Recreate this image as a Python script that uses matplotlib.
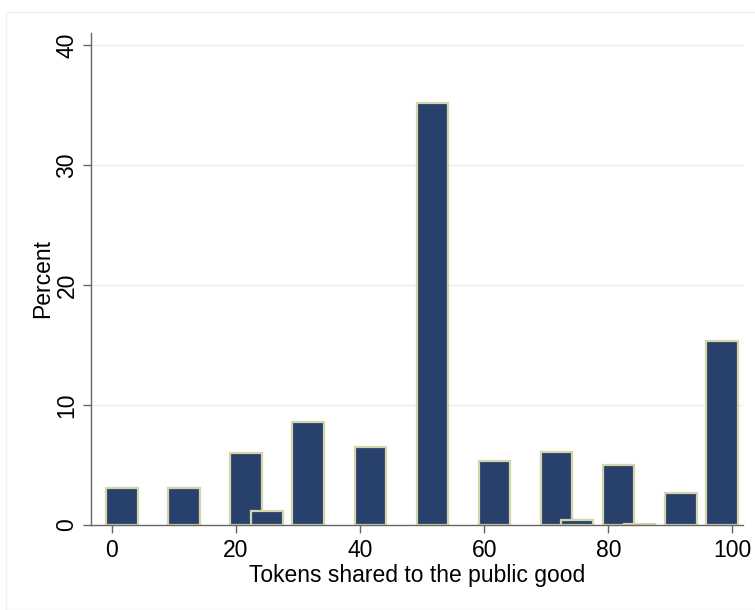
import matplotlib
matplotlib.use("Agg")
import matplotlib.pyplot as plt
from matplotlib.patches import Rectangle

# Data: histogram bins (bin centres, in tokens) and percent of subjects
bin_centers = [1.67, 11.67, 21.67, 25.0, 31.67, 41.67, 51.67, 61.67, 71.67, 75.0, 81.67, 85.0, 91.67, 98.33]
percent = [3.1, 3.1, 6.0, 1.2, 8.6, 6.5, 35.2, 5.3, 6.1, 0.45, 5.0, 0.1, 2.7, 15.3]
x_ticks = [0, 20, 40, 60, 80, 100]
y_ticks = [0, 10, 20, 30, 40]
x_title = "Tokens shared to the public good"
y_title = "Percent"

plt.rcParams['font.family'] = ['Liberation Sans', 'DejaVu Sans']

W, H = 755, 610
fig = plt.figure(figsize=(W / 100, H / 100), dpi=100)
fig.patches.append(Rectangle((6 / W, 0), 1, 1 - 12 / H, transform=fig.transFigure,
                             fill=False, edgecolor='#f0f0f0', linewidth=1.0))

ax = fig.add_axes([90.7 / W, 1 - 525 / H, (743 - 90.7) / W, (525 - 33) / H])
ax.set_xlim(-3.38, 101.7)
ax.set_ylim(0, 41)

for y in y_ticks[1:]:
    ax.axhline(y, color='#e3eeee', linewidth=1.0, zorder=0)

ax.bar(bin_centers, percent, width=5.1, color='#27406c', edgecolor='#d6d5aa',
       linewidth=1.6, zorder=2)

for s in ['top', 'right']:
    ax.spines[s].set_visible(False)
for s in ['left', 'bottom']:
    ax.spines[s].set_color('#666666')
    ax.spines[s].set_linewidth(1.0)

FS = 16.5
ax.set_xticks(x_ticks)
ax.set_yticks(y_ticks)
ax.tick_params(axis='both', length=5.8, width=1.0, color='#666666', labelsize=FS,
               labelcolor='black')
ax.tick_params(axis='x', pad=4.5)
ax.tick_params(axis='y', pad=3)
for lab in ax.get_yticklabels():
    lab.set_rotation(90)
    lab.set_va('center')

ax.set_xlabel(x_title, fontsize=FS, labelpad=1.5)
ax.set_ylabel(y_title, fontsize=FS, labelpad=1)

fig.savefig("out.png", dpi=100, facecolor='white')
